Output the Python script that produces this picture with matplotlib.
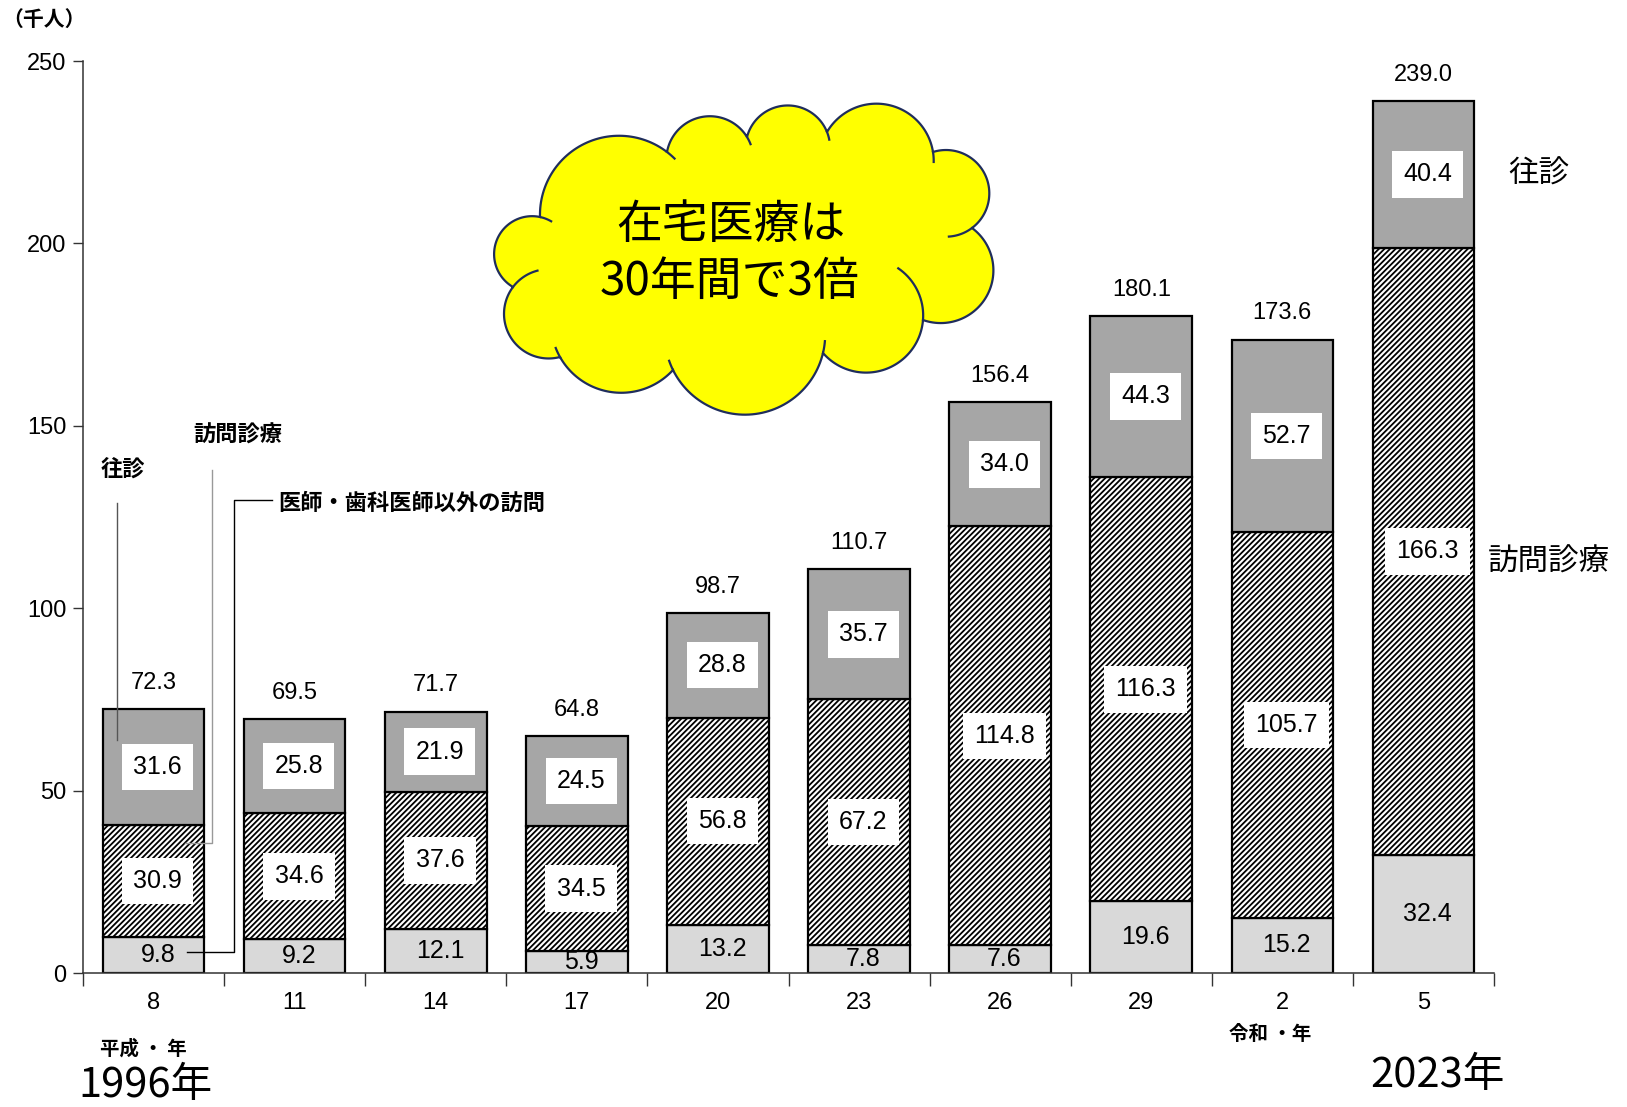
import numpy as np
import matplotlib
matplotlib.use("Agg")
import matplotlib.pyplot as plt
from matplotlib.patches import Polygon

# 訪問診療等の患者数（千人）
years = ["8", "11", "14", "17", "20", "23", "26", "29", "2", "5"]
oushin = [31.6, 25.8, 21.9, 24.5, 28.8, 35.7, 34.0, 44.3, 52.7, 40.4]
houmon = [30.9, 34.6, 37.6, 34.5, 56.8, 67.2, 114.8, 116.3, 105.7, 166.3]
other = [9.8, 9.2, 12.1, 5.9, 13.2, 7.8, 7.6, 19.6, 15.2, 32.4]
totals = [72.3, 69.5, 71.7, 64.8, 98.7, 110.7, 156.4, 180.1, 173.6, 239.0]
yticks = [0, 50, 100, 150, 200, 250]

NUM = ["Liberation Sans", "DejaVu Sans"]
JP = ["Noto Sans CJK JP", "DejaVu Sans"]

plt.rcParams["hatch.linewidth"] = 1.3
plt.rcParams["hatch.color"] = "black"

W, H = 1627, 1107
fig = plt.figure(figsize=(W / 100, H / 100), dpi=100)
ax = fig.add_axes([83 / W, 1 - 973 / H, (1494 - 83) / W, (973 - 61) / H])

x = np.arange(len(years))
other = np.array(other)
houmon = np.array(houmon)
oushin = np.array(oushin)
bw = 0.72
ax.bar(x, other, bw, color="#d9d9d9", edgecolor="black", linewidth=1.6, zorder=2)
ax.bar(x, houmon, bw, bottom=other, color="white", edgecolor="black",
       hatch="//////", linewidth=1.6, zorder=2)
ax.bar(x, oushin, bw, bottom=other + houmon, color="#a6a6a6",
       edgecolor="black", linewidth=1.6, zorder=2)

box = dict(boxstyle="square,pad=0.45", facecolor="white", edgecolor="none")
for i in range(len(x)):
    ax.text(x[i] + 0.03, other[i] / 2, f"{other[i]:.1f}", ha="center", va="center",
            fontsize=18, family=NUM, zorder=4)
    ax.text(x[i] + 0.03, other[i] + houmon[i] / 2, f"{houmon[i]:.1f}", ha="center",
            va="center", fontsize=18, family=NUM, bbox=box, zorder=4)
    ax.text(x[i] + 0.03, other[i] + houmon[i] + oushin[i] / 2, f"{oushin[i]:.1f}",
            ha="center", va="center", fontsize=18, family=NUM, bbox=box, zorder=4)
    ax.annotate(f"{totals[i]:.1f}", (x[i], totals[i]), xytext=(0, 11),
                textcoords="offset points", ha="center", va="bottom",
                fontsize=17, family=NUM)

ax.set_xlim(-0.5, len(x) - 0.5)
ax.set_ylim(0, 250)
ax.set_yticks(yticks)
ax.set_yticklabels([str(v) for v in yticks], family=NUM, fontsize=17)
ax.tick_params(axis="y", direction="out", length=7, width=1, pad=5)
ax.set_xticks(np.arange(-0.5, len(x)), labels=[""] * (len(x) + 1))
ax.tick_params(axis="x", which="major", direction="out", length=9, width=1)
ax.set_xticks(x, labels=years, minor=True)
ax.tick_params(axis="x", which="minor", length=0, pad=14)
for lb in ax.get_xticklabels(minor=True):
    lb.set_family(NUM)
    lb.set_fontsize(17)
for s in ["top", "right"]:
    ax.spines[s].set_visible(False)
for s in ["left", "bottom"]:
    ax.spines[s].set_linewidth(1.1)
    ax.spines[s].set_color("#333333")
ax.tick_params(colors="#333333", labelcolor="black")

# overlay in pixel coordinates for callouts and the cloud
ov = fig.add_axes([0, 0, 1, 1], zorder=5)
ov.set_xlim(0, W)
ov.set_ylim(H, 0)
ov.axis("off")
ov.patch.set_alpha(0)


def bump(a, b, s, c0, ext_a=0.0, ext_b=0.0, n=60):
    a = np.asarray(a, float)
    b = np.asarray(b, float)
    m = (a + b) / 2
    d = b - a
    c = np.hypot(*d)
    nv = np.array([-d[1], d[0]]) / c
    if np.dot(nv, m - c0) < 0:
        nv = -nv
    r = (c ** 2 / 4 + s ** 2) / (2 * s)
    o = m + nv * (s - r)

    def ang(p):
        return np.arctan2(p[1] - o[1], p[0] - o[0])

    ta, tb, tp = ang(a), ang(b), ang(m + nv * s)
    span = (tb - ta) % (2 * np.pi)
    if (tp - ta) % (2 * np.pi) < span:
        sgn = 1
    else:
        sgn = -1
        span = 2 * np.pi - span
    t = ta + sgn * np.linspace(0, span, n)
    outline = o + r * np.column_stack([np.cos(t), np.sin(t)])
    strokes = []
    if ext_a:
        t2 = ta - sgn * np.linspace(0, ext_a / r, 20)
        strokes.append(o + r * np.column_stack([np.cos(t2), np.sin(t2)]))
    if ext_b:
        t2 = tb + sgn * np.linspace(0, ext_b / r, 20)
        strokes.append(o + r * np.column_stack([np.cos(t2), np.sin(t2)]))
    return outline, strokes


c0 = np.array([743.0, 257.0])
pts = [(540, 217), (667, 152), (747, 137), (827, 132), (933, 152), (972, 228),
       (923, 320), (823, 353), (673, 370), (560, 357), (513, 287)]
sag = [45, 28, 29, 38, 36, 45, 35, 53, 29, 30, 32]
ext = [(0, 10), (0, 8), (0, 8), (0, 10), (0, 25), (0, 0),
       (60, 0), (12, 10), (0, 10), (0, 30), (0, 12)]
outline = []
strokes = []
for i in range(len(pts)):
    ol, st = bump(pts[i], pts[(i + 1) % len(pts)], sag[i], c0, *ext[i])
    outline.append(ol)
    strokes += st
cloud_col = "#1f2d5c"
ov.add_patch(Polygon(np.vstack(outline), closed=True, facecolor="#ffff00",
                     edgecolor=cloud_col, linewidth=1.6, zorder=2))
for st in strokes:
    ov.plot(st[:, 0], st[:, 1], color=cloud_col, linewidth=1.6, zorder=3)
ov.text(731, 225, "在宅医療は", ha="center", va="center", fontsize=33,
        family=JP, zorder=4)
ov.text(730, 282, "30年間で3倍", ha="center", va="center", fontsize=33,
        family=JP, zorder=4)

# series callouts
ov.text(123, 469, "往診", ha="center", va="center", fontsize=16,
        family=JP, weight="bold")
ov.plot([117, 117], [503, 740], color="#555555", linewidth=1)
ov.text(238, 435, "訪問診療", ha="center", va="center", fontsize=16,
        family=JP, weight="bold")
ov.plot([212, 212, 185], [470, 843, 843], color="#999999", linewidth=1)
ov.text(278, 503, "医師・歯科医師以外の訪問", ha="left", va="center",
        fontsize=16, family=JP, weight="bold")
ov.plot([272, 234, 234, 187], [500, 500, 952, 952], color="black", linewidth=1)

ov.text(1539, 174, "往診", ha="center", va="center", fontsize=22, family=JP)
ov.text(1549, 562, "訪問診療", ha="center", va="center", fontsize=22, family=JP)

ov.text(44, 19, "（千人）", ha="center", va="center", fontsize=15,
        family=JP, weight="bold")
ov.text(143, 1049, "平成 ・ 年", ha="center", va="center", fontsize=14,
        family=JP, weight="bold")
ov.text(1270, 1035, "令和 ・年", ha="center", va="center", fontsize=14,
        family=JP, weight="bold")
ov.text(145, 1085, "1996年", ha="center", va="center", fontsize=30, family=JP)
ov.text(1437, 1076, "2023年", ha="center", va="center", fontsize=30, family=JP)

fig.savefig("out.png", dpi=100)
